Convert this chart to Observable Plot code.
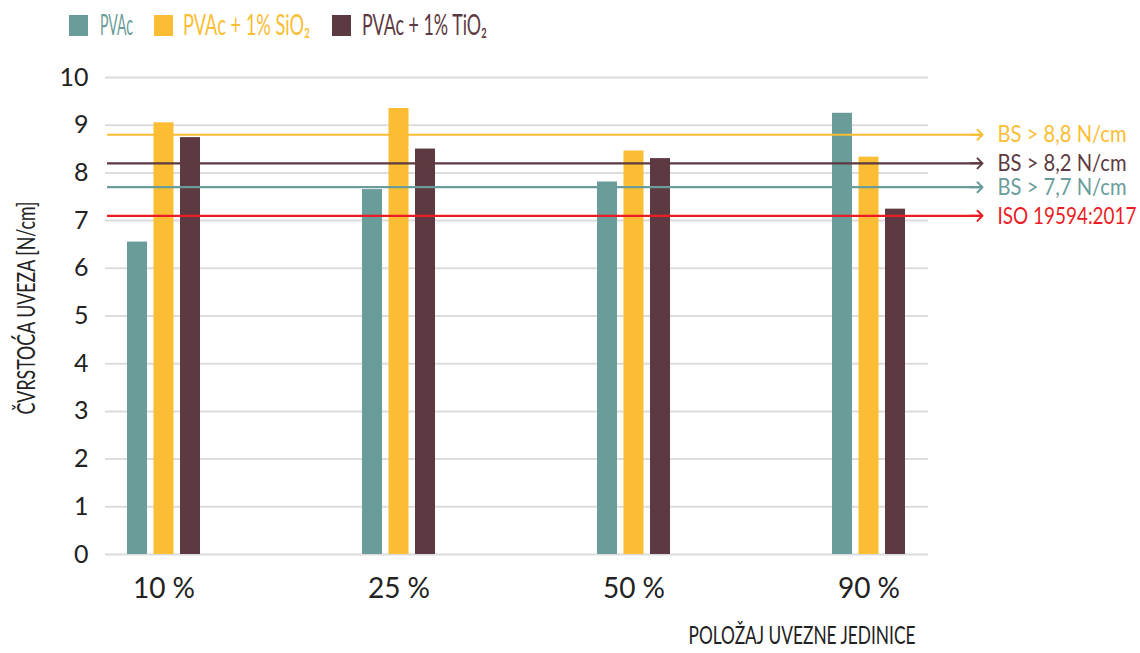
<!DOCTYPE html>
<html>
<head>
<meta charset="utf-8">
<script src="https://cdn.jsdelivr.net/npm/d3@7"></script>
<script src="https://cdn.jsdelivr.net/npm/@observablehq/plot@0.6"></script>
<style>
  html, body { margin: 0; padding: 0; background: #fff; }
  #wrap { width: 1140px; height: 653px; position: relative; overflow: hidden; }
  #legend { display: block; }
</style>
</head>
<body>
<div id="wrap">
  <svg id="legend" width="1140" height="50"></svg>
  <div id="chart"></div>
</div>
<script>
const groups = ["10 %", "25 %", "50 %", "90 %"];
const seriesNames = ["PVAc", "PVAc + 1% SiO₂", "PVAc + 1% TiO₂"];
const seriesColors = ["#6a9c99", "#fbbd33", "#5d3a41"];
const pvac = [6.55, 7.65, 7.81, 9.25];
const pvacSiO2 = [9.05, 9.35, 8.46, 8.33];
const pvacTiO2 = [8.74, 8.50, 8.30, 7.24];
const refValues = [8.8, 8.2, 7.7, 7.1];
const refLabels = ["BS > 8,8 N/cm", "BS > 8,2 N/cm", "BS > 7,7 N/cm", "ISO 19594:2017"];
const refColors = ["#fbbd33", "#5d3a41", "#6a9c99", "#ec1c24"];
const yTicks = [0, 1, 2, 3, 4, 5, 6, 7, 8, 9, 10];
const yLabel = "ČVRSTOĆA UVEZA [N/cm]";
const xLabel = "POLOŽAJ UVEZNE JEDINICE";

const labelFont = "Lato, 'Noto Sans', sans-serif";
const tickFont = "Lato, 'Open Sans', sans-serif";

const seriesValues = [pvac, pvacSiO2, pvacTiO2];
const offsets = [-26.5, 0, 26.5];

// legend (layout only; names and colours come from the arrays)
const legendSwatchX = [69, 154, 332];
const legendTextX = [100, 183, 362];
const legendTextW = [33, 127, 125];
const lg = d3.select("#legend");
seriesNames.forEach((name, i) => {
  lg.append("rect").attr("x", legendSwatchX[i]).attr("y", 15).attr("width", 19).attr("height", 21).attr("fill", seriesColors[i]);
  lg.append("text").attr("x", legendTextX[i]).attr("y", 35)
    .attr("fill", seriesColors[i]).attr("font-family", labelFont).attr("font-size", 28)
    .attr("textLength", legendTextW[i]).attr("lengthAdjust", "spacingAndGlyphs")
    .text(name);
});

const barMarks = seriesValues.map((vals, i) =>
  Plot.barY(groups.map((g, j) => ({group: g, value: vals[j]})), {
    x: "group",
    y: "value",
    fill: seriesColors[i],
    dx: offsets[i],
    insetLeft: 107.5,
    insetRight: 107.5
  })
);

const refData = refValues.map((v, i) => ({value: v, label: refLabels[i], color: refColors[i]}));

const chart = Plot.plot({
  width: 1140,
  height: 603,
  marginLeft: 105,
  marginRight: 158,
  marginTop: 27,
  marginBottom: 99,
  style: {fontFamily: tickFont, background: "white", color: "#222"},
  x: {domain: groups, range: [46, 986], padding: 0, axis: null},
  y: {domain: [0, 10], axis: null},
  color: {type: "identity"},
  marks: [
    Plot.ruleY(yTicks, {stroke: "#dcdcdc", strokeWidth: 2, insetRight: 54}),
    ...barMarks,
    Plot.ruleY(refData, {y: "value", stroke: "color", strokeWidth: 2.2, insetLeft: 2, insetRight: 2}),
    Plot.vector(refData, {y: "value", frameAnchor: "right", anchor: "end", rotate: 90, length: 12, r: 7.3, stroke: "color", strokeWidth: 2, shape: "arrow"}),
    Plot.text(refData, {y: "value", frameAnchor: "right", dx: 15, textAnchor: "start", text: "label", fill: "color", fontSize: 24, fontFamily: labelFont, className: "reflabel"}),
    Plot.axisY(yTicks, {tickSize: 0, tickPadding: 17, fontSize: 25, fontFamily: tickFont, label: null}),
    Plot.text([yLabel], {frameAnchor: "left", dx: -79, dy: -8, rotate: -90, textAnchor: "middle", fontSize: 25, fill: "#222", fontFamily: labelFont, className: "ylab"}),
    Plot.axisX({tickSize: 0, tickPadding: 24, fontSize: 28, fontFamily: tickFont, label: null}),
    Plot.text([xLabel], {frameAnchor: "bottom-right", dx: -67, dy: 89, textAnchor: "end", fontSize: 25, fill: "#222", fontFamily: labelFont, className: "xlab"})
  ]
});
document.getElementById("chart").appendChild(chart);

// condensed look: squeeze label texts to the reference widths
const refWidths = [129, 129, 129, 139];
d3.select(chart).selectAll(".reflabel text").each(function(d, i) {
  d3.select(this).attr("textLength", refWidths[i]).attr("lengthAdjust", "spacingAndGlyphs");
});
d3.select(chart).selectAll(".ylab text").attr("textLength", 213).attr("lengthAdjust", "spacingAndGlyphs");
d3.select(chart).selectAll(".xlab text").attr("textLength", 227).attr("lengthAdjust", "spacingAndGlyphs");
</script>
</body>
</html>
